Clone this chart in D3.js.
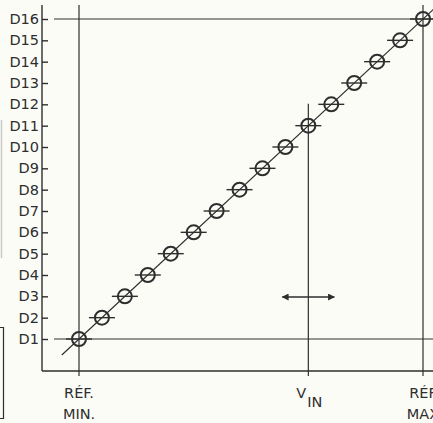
<!DOCTYPE html>
<html><head><meta charset="utf-8">
<script src="https://cdn.jsdelivr.net/npm/d3@7/dist/d3.min.js"></script>
<style>
html,body{margin:0;padding:0;background:#fcfcf7;}
svg{display:block;}
text{font-family:"DejaVu Sans",sans-serif;fill:#2e2e2e;}
</style></head><body>
<script>
// Data
const codeLabels = ["D1","D2","D3","D4","D5","D6","D7","D8","D9","D10","D11","D12","D13","D14","D15","D16"];
const codeIndex  = [1,2,3,4,5,6,7,8,9,10,11,12,13,14,15,16];
const inputLevels = [0,1,2,3,4,5,6,7,8,9,10,11,12,13,14,15];
const refMin = 0, refMax = 15, vin = 10;
const xLabels = [{v:0, lines:["RÉF.","MIN."]},{v:15, lines:["RÉF","MAX"]}];

const W = 433, H = 423;
const ink = "#2e2e2e";
const svg = d3.select("body").append("svg").attr("width",W).attr("height",H);
svg.append("rect").attr("width",W).attr("height",H).attr("fill","#fcfcf7");

const x = d3.scaleLinear().domain([refMin, refMax]).range([79, 423]);
const y = d3.scaleLinear().domain([1,16]).range([339, 19]);
const axisX = 42, axisY = 371, axisTop = 5;

// left edge remnants
svg.append("line").attr("x1",1.5).attr("x2",1.5).attr("y1",120).attr("y2",258).attr("stroke","#c8c8c4").attr("stroke-width",1.5);
svg.append("path").attr("d","M0,327.5H3.5V418.5H0").attr("fill","none").attr("stroke",ink).attr("stroke-width",1.2);

// axes lines
svg.append("line").attr("x1",axisX).attr("x2",axisX).attr("y1",axisTop).attr("y2",axisY).attr("stroke",ink).attr("stroke-width",1.4);
svg.append("line").attr("x1",axisX).attr("x2",W).attr("y1",axisY).attr("y2",axisY).attr("stroke",ink).attr("stroke-width",1.4);

// y axis ticks/labels
const yAxis = d3.axisLeft(y).tickValues(codeIndex).tickFormat((d,i)=>codeLabels[i]).tickSizeInner(-6).tickSizeOuter(0).tickPadding(3);
const ga = svg.append("g").attr("transform",`translate(${axisX},0)`).call(yAxis);
ga.select(".domain").remove();
ga.selectAll("line").attr("stroke",ink).attr("stroke-width",1.4);
ga.selectAll("text").attr("font-size",14.5).attr("fill",ink).style("font-family","'DejaVu Sans',sans-serif");

// reference horizontal lines at D1 and D16
[1,16].forEach(c=>{
  svg.append("line").attr("x1",54).attr("x2",W).attr("y1",y(c)).attr("y2",y(c)).attr("stroke",ink).attr("stroke-width",1.2);
});
// vertical lines REF MIN / REF MAX
[refMin, refMax].forEach(v=>{
  svg.append("line").attr("x1",x(v)).attr("x2",x(v)).attr("y1",axisTop).attr("y2",axisY+5).attr("stroke",ink).attr("stroke-width",1.2);
});
// VIN line
svg.append("line").attr("x1",x(vin)).attr("x2",x(vin)).attr("y1",y(11)-22).attr("y2",axisY+5).attr("stroke",ink).attr("stroke-width",1.2);

// diagonal transfer line
svg.append("line")
  .attr("x1",x(-0.75)).attr("y1",y(1-0.75*15/15*1))
  .attr("x2",x(15.5)).attr("y2",y(16.5))
  .attr("stroke",ink).attr("stroke-width",1.2);

// points with horizontal bars
const pts = svg.append("g");
inputLevels.forEach((v,i)=>{
  const cx = x(v), cy = y(codeIndex[i]);
  pts.append("line").attr("x1",cx-13).attr("x2",cx+13).attr("y1",cy).attr("y2",cy).attr("stroke",ink).attr("stroke-width",1.4);
  pts.append("circle").attr("cx",cx).attr("cy",cy).attr("r",7).attr("fill","none").attr("stroke",ink).attr("stroke-width",2);
});
// vertical cross marks through D1 / D11 / D16 circles are provided by the vertical lines

// double-headed arrow
const defs = svg.append("defs");
["s","e"].forEach(k=>{
  defs.append("marker").attr("id","ah"+k).attr("viewBox","0 0 10 10").attr("refX",k==="e"?9:1).attr("refY",5)
    .attr("markerWidth",9).attr("markerHeight",7).attr("markerUnits","userSpaceOnUse").attr("orient","auto")
    .append("path").attr("d",k==="e"?"M0,0L10,5L0,10Z":"M10,0L0,5L10,10Z").attr("fill",ink);
});
svg.append("line").attr("x1",x(vin)-26).attr("x2",x(vin)+26).attr("y1",297).attr("y2",297)
  .attr("stroke",ink).attr("stroke-width",1.6).attr("marker-start","url(#ahs)").attr("marker-end","url(#ahe)");

// x labels
xLabels.forEach(l=>{
  l.lines.forEach((t,j)=>{
    svg.append("text").attr("x",x(l.v)).attr("y",398+j*21).attr("text-anchor","middle").attr("font-size",14.5).text(t);
  });
});
const vt = svg.append("text").attr("x",x(vin)-12).attr("y",398).attr("font-size",14.5);
vt.append("tspan").text("V");
vt.append("tspan").attr("dy",9).attr("dx",1).attr("font-size",14.5).text("IN");
</script>
</body></html>
